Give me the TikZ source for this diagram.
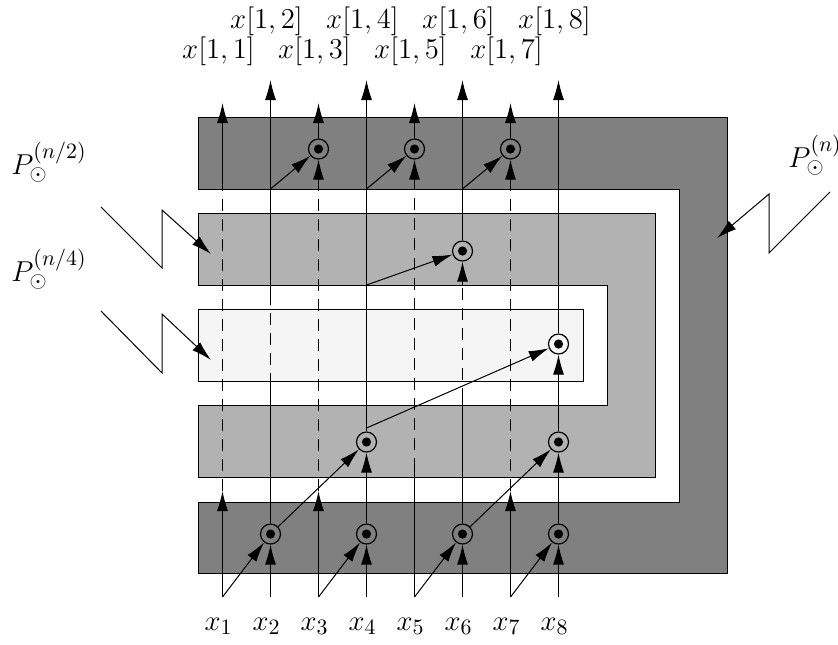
\documentclass[tikz,border=0pt]{standalone}
\usetikzlibrary{arrows.meta}
\begin{document}
\begin{tikzpicture}[x=0.5pt,y=-0.5pt,
  arr/.style={line width=0.5pt,-{Latex[length=10pt,width=5.5pt]}},
  ln/.style={line width=0.5pt},
  dsh/.style={line width=0.5pt,dash pattern=on 6pt off 4pt},
  op/.style={circle,draw,line width=0.6pt,minimum size=10pt,inner sep=0pt,
    path picture={\fill (path picture bounding box.center) circle (2.3pt);}},
  region/.style={draw=black,line width=0.5pt},
  lbl/.style={inner sep=0pt,font=\fontsize{15}{18}\selectfont}]
\useasboundingbox (0,0) rectangle (838,644);
% regions
\filldraw[fill=black!50,region] (198,117) -- (727,117) -- (727,573) -- (198,573) -- (198,502) -- (679,502) -- (679,189) -- (198,189) -- cycle;
\filldraw[fill=black!30,region] (198,213) -- (655,213) -- (655,477) -- (198,477) -- (198,405) -- (607,405) -- (607,285) -- (198,285) -- cycle;
\filldraw[fill=black!4,region] (198,309) rectangle (583,381);
% column coordinates
\foreach \i in {1,...,8}{
  \pgfmathsetmacro{\X}{222.5+48*(\i-1)}
  \coordinate (b\i) at (\X,597);
  \coordinate (e\i) at (\X,189);
}
\foreach \i in {1,3,5,7}{
  \pgfmathsetmacro{\X}{222.5+48*(\i-1)}
  \coordinate (o\i) at (\X,103);
  \coordinate (a\i) at (\X,491);
}
\foreach \i in {2,4,6,8}{
  \pgfmathsetmacro{\X}{222.5+48*(\i-1)}
  \coordinate (o\i) at (\X,80);
}
\coordinate (s5) at (414.5,470);
\coordinate (g2) at (270.5,385);
\coordinate (h2) at (270.5,305);
\coordinate (g6) at (462.5,400);
\coordinate (f6) at (462.5,285);
\coordinate (f4) at (366.5,285);
\coordinate (k4) at (366.5,428);
% operator nodes
\node[op] (c2) at (270.5,534) {};
\node[op] (c4) at (366.5,534) {};
\node[op] (c6) at (462.5,534) {};
\node[op] (c8) at (558.5,534) {};
\node[op] (m4) at (366.5,442) {};
\node[op] (m8) at (558.5,442) {};
\node[op] (n8) at (558.5,344) {};
\node[op] (p6) at (462.5,251) {};
\node[op] (q3) at (318.5,149) {};
\node[op] (q5) at (414.5,149) {};
\node[op] (q7) at (510.5,149) {};
% column 1
\draw[arr] (b1) -- (a1);
\draw[dsh] (a1) -- (e1);
\draw[arr] (e1) -- (o1);
% column 2
\draw[arr] (b1) -- (c2);
\draw[arr] (b2) -- (c2);
\draw[ln] (c2) -- (g2);
\draw[dsh] (g2) -- (h2);
\draw[arr] (h2) -- (o2);
\draw[arr] (c2) -- (m4);
\draw[arr] (e2) -- (q3);
% column 3
\draw[arr] (b3) -- (a3);
\draw[dsh] (a3) -- (e3);
\draw[arr] (e3) -- (q3);
\draw[arr] (q3) -- (o3);
% column 4
\draw[arr] (b3) -- (c4);
\draw[arr] (b4) -- (c4);
\draw[arr] (c4) -- (m4);
\draw[arr] (m4) -- (o4);
\draw[arr] (k4) -- (n8);
\draw[arr] (f4) -- (p6);
\draw[arr] (e4) -- (q5);
% column 5
\draw[ln] (b5) -- (s5);
\draw[dsh] (s5) -- (e5);
\draw[arr] (e5) -- (q5);
\draw[arr] (q5) -- (o5);
% column 6
\draw[arr] (b5) -- (c6);
\draw[arr] (b6) -- (c6);
\draw[ln] (c6) -- (g6);
\draw[dsh] (g6) -- (f6);
\draw[arr] (f6) -- (p6);
\draw[arr] (p6) -- (o6);
\draw[arr] (c6) -- (m8);
\draw[arr] (e6) -- (q7);
% column 7
\draw[arr] (b7) -- (a7);
\draw[dsh] (a7) -- (e7);
\draw[arr] (e7) -- (q7);
\draw[arr] (q7) -- (o7);
% column 8
\draw[arr] (b7) -- (c8);
\draw[arr] (b8) -- (c8);
\draw[arr] (c8) -- (m8);
\draw[arr] (m8) -- (n8);
\draw[arr] (n8) -- (o8);
% zigzag arrows
\coordinate (z1a) at (101,207); \coordinate (z1b) at (162,268); \coordinate (z1c) at (162,210); \coordinate (z1d) at (211,254);
\coordinate (z2a) at (101,311); \coordinate (z2b) at (162,373); \coordinate (z2c) at (162,314); \coordinate (z2d) at (211,360);
\coordinate (z3a) at (830,192); \coordinate (z3b) at (769,253); \coordinate (z3c) at (769,194); \coordinate (z3d) at (717,238);
\draw[arr] (z1a) -- (z1b) -- (z1c) -- (z1d);
\draw[arr] (z2a) -- (z2b) -- (z2c) -- (z2d);
\draw[arr] (z3a) -- (z3b) -- (z3c) -- (z3d);
% labels
\node[lbl,anchor=base west] (lp2) at (11,174) {$P_{\odot}^{(n/2)}$};
\node[lbl,anchor=base west] (lp4) at (11,281) {$P_{\odot}^{(n/4)}$};
\node[lbl,anchor=base west] (lpn) at (788,167) {$P_{\odot}^{(n)}$};
\foreach \i in {2,4,6,8}{
  \pgfmathsetmacro{\X}{222.5+48*(\i-1)-4}
  \node[lbl,anchor=base] (top\i) at (\X,28) {$x[1,\i]$};
}
\foreach \i in {1,3,5,7}{
  \pgfmathsetmacro{\X}{222.5+48*(\i-1)-4}
  \node[lbl,anchor=base] (top\i) at (\X,58) {$x[1,\i]$};
}
\foreach \i in {1,...,8}{
  \pgfmathsetmacro{\X}{222.5+48*(\i-1)-4}
  \node[lbl,anchor=base] (in\i) at (\X,630) {$x_{\i}$};
}
\end{tikzpicture}
\end{document}
